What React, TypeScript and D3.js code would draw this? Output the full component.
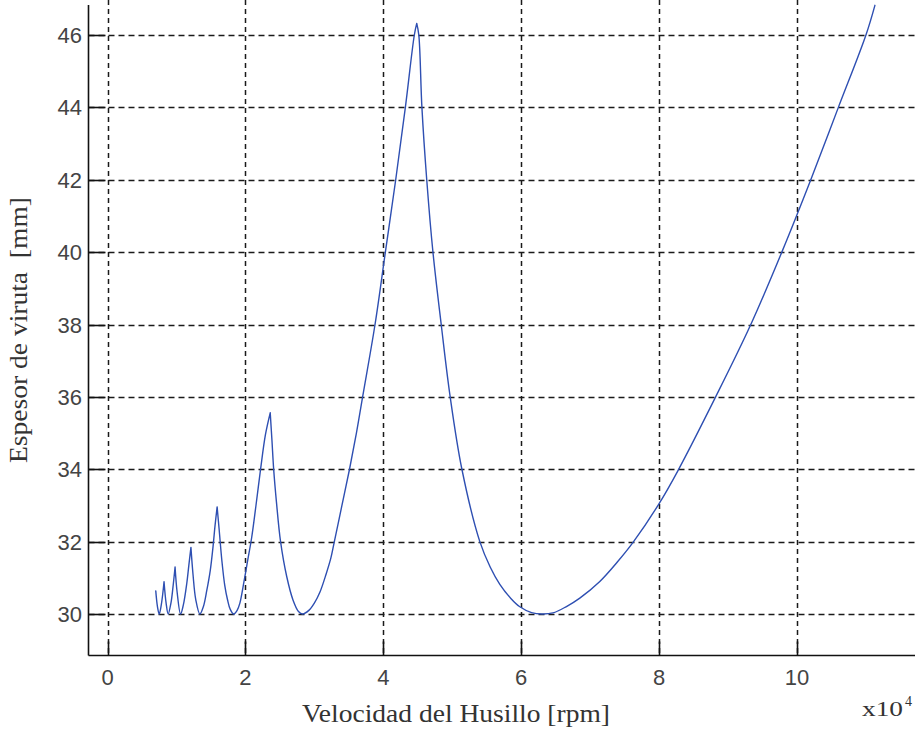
import React from "react";
import * as d3 from "d3";

type P = [number, number];

// x in units of 1e4 rpm, y in mm
const xTicks = [0, 2, 4, 6, 8, 10];
const yTicks = [30, 32, 34, 36, 38, 40, 42, 44, 46];

const lobe0: P[] = [[0.70, 30.64], [0.725, 30.2], [0.75, 30.0], [0.78, 30.25], [0.82, 30.89]];
const lobe1: P[] = [[0.82, 30.89], [0.85, 30.3], [0.88, 30.0], [0.92, 30.3], [0.95, 30.75], [0.98, 31.3]];
const lobe2: P[] = [[0.98, 31.3], [1.01, 30.6], [1.06, 30.0], [1.10, 30.25], [1.15, 30.85], [1.18, 31.35], [1.21, 31.84]];
const lobe3: P[] = [[1.21, 31.84], [1.24, 31.1], [1.28, 30.4], [1.34, 30.0], [1.39, 30.2], [1.44, 30.65], [1.49, 31.2], [1.53, 31.85], [1.56, 32.45], [1.59, 32.96]];
const lobe4: P[] = [[1.59, 32.96], [1.62, 32.32], [1.66, 31.45], [1.70, 30.8], [1.74, 30.4], [1.78, 30.13], [1.83, 30.0], [1.88, 30.1], [1.92, 30.3], [1.98, 30.9], [2.03, 31.45], [2.09, 32.1], [2.15, 32.95], [2.22, 34.0], [2.29, 34.95], [2.36, 35.56]];
const lobe5: P[] = [[2.36, 35.56], [2.385, 34.8], [2.41, 34.0], [2.45, 33.1], [2.51, 32.0], [2.60, 31.03], [2.69, 30.39], [2.77, 30.07], [2.83, 30.0], [2.92, 30.1], [3.00, 30.3], [3.08, 30.6], [3.17, 31.1], [3.24, 31.55], [3.29, 32.0], [3.40, 33.0], [3.51, 34.0], [3.61, 35.0], [3.70, 36.0], [3.88, 38.0], [4.03, 40.0], [4.18, 42.0], [4.32, 44.0], [4.45, 46.0], [4.485, 46.32]];
const lobe6: P[] = [[4.485, 46.32], [4.515, 46.0], [4.56, 44.0], [4.63, 42.0], [4.72, 40.0], [4.84, 38.0], [4.97, 36.0], [5.14, 34.0], [5.40, 32.0], [5.55, 31.3], [5.69, 30.82], [5.85, 30.43], [5.98, 30.2], [6.15, 30.04], [6.3, 30.0], [6.46, 30.03], [6.65, 30.2], [6.85, 30.44], [7.14, 30.9], [7.40, 31.45], [7.63, 32.0], [8.0, 33.05], [8.27, 33.95], [8.82, 36.0], [9.33, 38.0], [9.78, 40.0], [10.2, 42.0], [10.6, 44.0], [11.0, 46.0], [11.13, 46.82]];

const lobes = [lobe0, lobe1, lobe2, lobe3, lobe4, lobe5, lobe6];

export default function App() {
  const W = 921, H = 732;
  const left = 88.5, right = 915, top = 0, bottom = 655.5;
  const x = d3.scaleLinear().domain([0, 10]).range([107.5, 797]);
  const y = d3.scaleLinear().domain([30, 46]).range([614, 35]);
  const line = d3.line<P>().x(d => x(d[0])).y(d => y(d[1])).curve(d3.curveCatmullRom.alpha(0.5));
  const path = lobes.map(l => line(l) || "").join("");
  const tickFont = "'Liberation Sans', Arial, sans-serif";
  const serif = "'Liberation Serif', 'Times New Roman', serif";

  return (
    <svg width={W} height={H} style={{ position: "absolute", left: 0, top: 0, background: "#fff" }}>
      <rect x={0} y={0} width={W} height={H} fill="#fff" />
      <defs>
        <clipPath id="plot">
          <rect x={left} y={top} width={right - left} height={bottom - top} />
        </clipPath>
      </defs>
      {/* grid */}
      <g stroke="#1a1a1a" strokeWidth={1.5}>
        {xTicks.map(t => (
          <line key={"gx" + t} x1={Math.round(x(t)) + 0.5} x2={Math.round(x(t)) + 0.5} y1={top} y2={bottom} strokeDasharray="5,4" />
        ))}
        {yTicks.map(t => (
          <line key={"gy" + t} x1={left} x2={right} y1={Math.round(y(t)) + 0.5} y2={Math.round(y(t)) + 0.5} strokeDasharray="6,4" />
        ))}
      </g>
      {/* curve */}
      <g clipPath="url(#plot)">
        <path d={path} fill="none" stroke="#2e4fb2" strokeWidth={1.4} strokeLinecap="round" strokeLinejoin="round" />
      </g>
      {/* axes */}
      <g stroke="#111" strokeWidth={1.6}>
        <line x1={left} x2={left} y1={5} y2={bottom} />
        <line x1={left} x2={right} y1={bottom} y2={bottom} />
        {yTicks.map(t => (
          <line key={"ty" + t} x1={left} x2={left + 17} y1={Math.round(y(t)) + 0.5} y2={Math.round(y(t)) + 0.5} />
        ))}
        {xTicks.map(t => (
          <line key={"tx" + t} x1={Math.round(x(t)) + 0.5} x2={Math.round(x(t)) + 0.5} y1={bottom} y2={bottom - 14} />
        ))}
      </g>
      {/* tick labels */}
      <g fill="#444" fontFamily={tickFont} fontSize={22}>
        {yTicks.map(t => (
          <text key={"ly" + t} x={82} y={y(t) + 8} textAnchor="end">{t}</text>
        ))}
        {xTicks.map(t => (
          <text key={"lx" + t} x={x(t)} y={685} textAnchor="middle">{t}</text>
        ))}
      </g>
      {/* axis labels */}
      <text x={302} y={722} fontFamily={serif} fontSize={25} fill="#333" textLength={308} lengthAdjust="spacingAndGlyphs">
        Velocidad del Husillo [rpm]
      </text>
      <text transform="translate(27,330) rotate(-90)" x={0} y={0} textAnchor="middle" fontFamily={serif} fontSize={25} fill="#333" textLength={266} lengthAdjust="spacingAndGlyphs">
        {"Espesor de viruta\u00A0\u00A0[mm]"}
      </text>
      <text x={862} y={716} fontFamily={serif} fontSize={21} fill="#333" textLength={41} lengthAdjust="spacingAndGlyphs">x10</text>
      <text x={905} y={706} fontFamily={serif} fontSize={14} fill="#333">4</text>
    </svg>
  );
}
